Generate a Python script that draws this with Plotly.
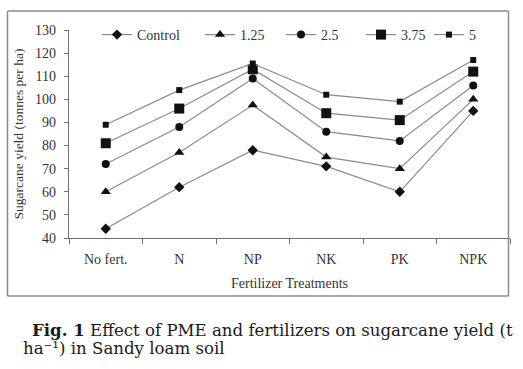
import plotly.graph_objects as go

categories = ["No fert.", "N", "NP", "NK", "PK", "NPK"]
series_names = ["Control", "1.25", "2.5", "3.75", "5"]
control = [44, 62, 78, 71, 60, 95]
pme_125 = [60, 77, 97.5, 75, 70, 100]
pme_25 = [72, 88, 109, 86, 82, 106]
pme_375 = [81, 96, 113, 94, 91, 112]
pme_5 = [89, 104, 115.5, 102, 99, 117]
y_ticks = [40, 50, 60, 70, 80, 90, 100, 110, 120, 130]

series_values = [control, pme_125, pme_25, pme_375, pme_5]
symbols = ["diamond", "triangle-up", "circle", "square", "square"]
sizes = [8, 9, 8, 10, 6]
legend_widths = [58, 36, 35, 23, 20]

FONT = "Liberation Serif, Times New Roman, serif"
CAP_FONT = "DejaVu Serif, serif"
fig = go.Figure()
for name, vals, sym, sz, lw in zip(series_names, series_values, symbols, sizes, legend_widths):
    fig.add_trace(go.Scatter(
        x=categories, y=vals, name=name, mode="lines+markers",
        line=dict(color="#8a8a8a", width=1.2),
        marker=dict(symbol=sym, size=sz, color="#111111"),
        legendwidth=lw,
    ))

W, H = 523, 369
L, R, T, B = 69, 13, 30, 131
pw, ph = W - L - R, H - T - B

def px_x(x):
    return (x - L) / pw

def px_y(y):
    return (H - B - y) / ph

bx0, bx1, by0, by1 = px_x(7.5), px_x(508.5), px_y(296), px_y(11)
border = dict(color="#8c8c8c", width=1.5)
for (xa, ya, xb, yb) in [(bx0, by0, bx1, by0), (bx0, by1, bx1, by1),
                         (bx0, by0, bx0, by1), (bx1, by0, bx1, by1)]:
    fig.add_shape(type="line", xref="x domain", yref="y domain",
                  x0=xa, y0=ya, x1=xb, y1=yb, line=border, layer="above")

fig.update_layout(
    width=W, height=H,
    margin=dict(l=L, r=R, t=T, b=B, autoexpand=False),
    paper_bgcolor="white", plot_bgcolor="white",
    font=dict(family=FONT, size=14, color="#333333"),
    showlegend=True,
    legend=dict(orientation="h", x=px_x(97), y=px_y(35), xanchor="left", yanchor="middle",
                font=dict(family=FONT, size=14, color="#333333"),
                bgcolor="rgba(0,0,0,0)", itemwidth=30, tracegroupgap=0),
    xaxis=dict(
        type="category", range=[-0.5, 5.5], showgrid=False, automargin=False,
        showline=True, linecolor="#707070", linewidth=1.2,
        ticks="outside", tickson="boundaries", ticklen=5, tickcolor="#707070",
        ticklabelstandoff=8,
        tickfont=dict(family=FONT, size=14, color="#333333"),
        title=dict(text="Fertilizer Treatments", font=dict(family=FONT, size=14, color="#333333"), standoff=12),
    ),
    yaxis=dict(
        range=[40, 130], tickvals=y_ticks, showgrid=False, zeroline=False, automargin=False,
        showline=True, linecolor="#707070", linewidth=1.2,
        ticks="outside", ticklen=4, tickcolor="#707070",
        ticklabelstandoff=5,
        tickfont=dict(family=FONT, size=14, color="#333333"),
        title=dict(text="Sugarcane yield (tonnes per ha)", font=dict(family=FONT, size=13.5, color="#333333"), standoff=8),
    ),
    annotations=[
        dict(xref="paper", yref="paper", x=px_x(30), y=px_y(330), xanchor="left", yanchor="middle",
             showarrow=False, align="left",
             text="<b>Fig. 1</b> Effect of PME and fertilizers on sugarcane yield (t",
             font=dict(family=CAP_FONT, size=16.6, color="#1a1a1a")),
        dict(xref="paper", yref="paper", x=px_x(21), y=px_y(348), xanchor="left", yanchor="middle",
             showarrow=False, align="left",
             text="ha\u207b\u00b9) in Sandy loam soil",
             font=dict(family=CAP_FONT, size=16.6, color="#1a1a1a")),
    ],
)

fig.write_html("out.html", config={"displayModeBar": False},
               post_script="document.body.style.margin='0';")
